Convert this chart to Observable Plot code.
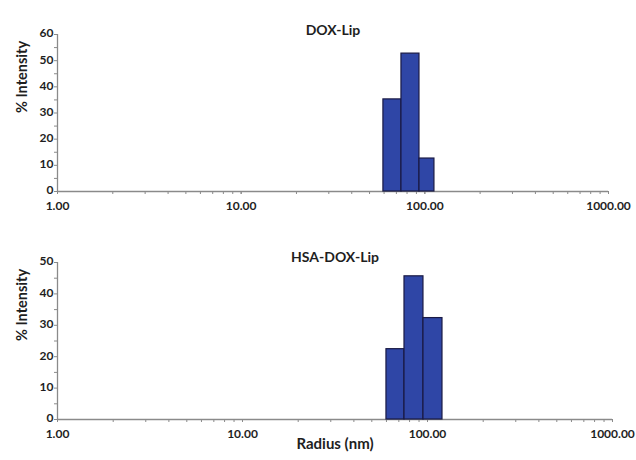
<!DOCTYPE html>
<html><head><meta charset="utf-8">
<script src="https://cdn.jsdelivr.net/npm/d3@7"></script>
<script src="https://cdn.jsdelivr.net/npm/@observablehq/plot@0.6"></script>
<style>body{margin:0;background:#fff;} svg{display:block}</style>
</head><body><div id="chart"></div>
<script>
// Panel titles
const titles = ["DOX-Lip", "HSA-DOX-Lip"];
// DOX-Lip bins (radius, nm) and % intensity
const doxLo = [59.5, 74.6, 93.5];
const doxHi = [74.6, 93.5, 112.8];
const doxVal = [35.2, 52.7, 12.6];
// HSA-DOX-Lip bins (radius, nm) and % intensity
const hsaLo = [60, 75.1, 95.1];
const hsaHi = [75.1, 95.1, 120.5];
const hsaVal = [22.4, 45.6, 32.3];
// Tick labels
const xTicks = [1, 10, 100, 1000];
const yTicksTop = [0, 10, 20, 30, 40, 50, 60];
const yTicksBottom = [0, 10, 20, 30, 40, 50];
const yLabel = "% Intensity";
const xLabel = "Radius (nm)";

const minorX = [];
for (const dec of [1, 10, 100]) for (let k = 1; k <= 10; k++) minorX.push(k * dec);

function panel({title, lo, hi, val, yTicks, height, marginTop, marginBottom, marginRight, titleDy, showXLabel}) {
  const yMax = yTicks[yTicks.length - 1];
  const bars = lo.map((l, i) => ({x1: l, x2: hi[i], y: val[i]}));
  const minorY = d3.range(0, yMax + 0.1, 5);
  const marks = [
    Plot.ruleY([0], {stroke: "#8a8a8a", strokeWidth: 1.3}),
    Plot.ruleX([1], {stroke: "#8a8a8a", strokeWidth: 1.3}),
    Plot.axisY({ticks: minorY, tickSize: 3, tickFormat: () => "", stroke: "#8a8a8a", label: null}),
    Plot.axisY({ticks: yTicks, tickSize: 0, tickPadding: 4, label: null, fill: "#1e1e1e", dy: -1}),
    Plot.axisX({ticks: minorX, tickSize: 3, tickFormat: () => "", stroke: "#8a8a8a", label: null}),
    Plot.axisX({ticks: xTicks, tickSize: 0, tickPadding: 10, tickFormat: d3.format(".2f"), label: null, fill: "#1e1e1e"}),
    Plot.rectY(bars, {x1: "x1", x2: "x2", y: "y", fill: "#2f46a6", stroke: "#1a1a44", strokeWidth: 1.2}),
    Plot.text([title], {frameAnchor: "top", dy: titleDy, fontSize: 14, fontWeight: "bold", fill: "#1e1e1e"}),
    Plot.text([yLabel], {frameAnchor: "left", rotate: -90, dx: -35, fontSize: 14.5, fontWeight: "bold", fill: "#1e1e1e"})
  ];
  if (showXLabel) marks.push(Plot.text([xLabel], {frameAnchor: "bottom", dy: 29, fontSize: 15, fontWeight: "bold", fill: "#1e1e1e"}));
  return Plot.plot({
    width: 636, height, marginLeft: 57, marginRight, marginTop, marginBottom,
    style: {fontFamily: "Lato, sans-serif", fontWeight: "bold", fontSize: "12px", color: "#1e1e1e", background: "white"},
    x: {type: "log", domain: [1, 1000]},
    y: {domain: [0, yMax]},
    marks
  });
}

const root = document.getElementById("chart");
root.append(panel({title: titles[0], lo: doxLo, hi: doxHi, val: doxVal, yTicks: yTicksTop,
  height: 230, marginTop: 34, marginBottom: 39, marginRight: 28, titleDy: -9, showXLabel: false}));
root.append(panel({title: titles[1], lo: hsaLo, hi: hsaHi, val: hsaVal, yTicks: yTicksBottom,
  height: 230, marginTop: 32, marginBottom: 41, marginRight: 24, titleDy: -10, showXLabel: true}));
</script>
</body></html>
